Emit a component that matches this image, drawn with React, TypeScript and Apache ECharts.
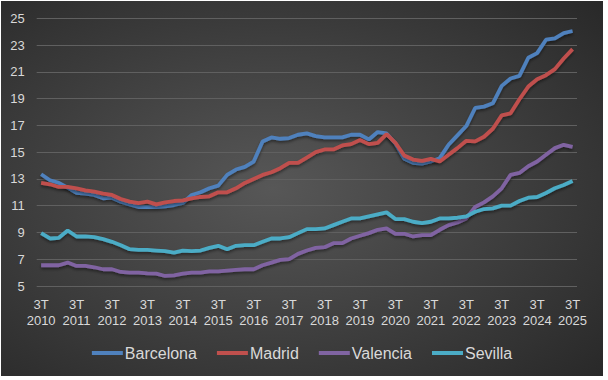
import React, { useEffect, useRef } from "react";
import * as echarts from "echarts";

const startYear = 2010;
const endYear = 2025;
const categories: string[] = [];
for (let y = startYear; y <= endYear; y++) {
  for (let q = 1; q <= 4; q++) {
    if ((y === startYear && q < 3) || (y === endYear && q > 3)) continue;
    categories.push(`${q}T ${y}`);
  }
}

const barcelona = [
  13.35, 12.9, 12.7, 12.35, 11.95, 11.9, 11.8, 11.55, 11.6, 11.3, 11.1, 10.9, 10.9, 10.9, 10.95, 11.05,
  11.2, 11.8, 12.0, 12.3, 12.5, 13.3, 13.7, 13.9, 14.3, 15.8, 16.1, 16.0, 16.05, 16.3, 16.4, 16.2,
  16.1, 16.1, 16.1, 16.3, 16.3, 15.95, 16.5, 16.4, 15.65, 14.5, 14.2, 14.15, 14.3, 14.55, 15.55, 16.25,
  16.95, 18.3, 18.4, 18.65, 19.95, 20.5, 20.7, 22.05, 22.4, 23.4, 23.5, 23.9, 24.05,
];
const madrid = [
  12.7, 12.6, 12.4, 12.4, 12.3, 12.15, 12.05, 11.9, 11.8, 11.5, 11.3, 11.2, 11.3, 11.1, 11.25, 11.35,
  11.4, 11.55, 11.65, 11.7, 12.0, 12.0, 12.3, 12.7, 13.0, 13.3, 13.5, 13.8, 14.2, 14.2, 14.6, 15.0,
  15.2, 15.2, 15.5, 15.6, 15.9, 15.6, 15.7, 16.35, 15.7, 14.75, 14.45, 14.35, 14.5, 14.3, 14.8, 15.3,
  15.85, 15.8, 16.15, 16.75, 17.75, 17.9, 18.95, 19.9, 20.45, 20.75, 21.2, 22.0, 22.7,
];
const valencia = [
  6.55, 6.55, 6.55, 6.75, 6.5, 6.5, 6.4, 6.25, 6.25, 6.05, 6.0, 6.0, 5.95, 5.93, 5.75, 5.8,
  5.93, 6.0, 6.0, 6.1, 6.1, 6.15, 6.2, 6.25, 6.25, 6.55, 6.75, 6.95, 7.0, 7.4, 7.65, 7.85,
  7.9, 8.2, 8.2, 8.55, 8.75, 8.95, 9.2, 9.3, 8.9, 8.9, 8.7, 8.8, 8.8, 9.2, 9.55, 9.75,
  10.05, 10.9, 11.25, 11.7, 12.3, 13.3, 13.45, 13.95, 14.3, 14.8, 15.3, 15.55, 15.4,
];
const sevilla = [
  8.95, 8.55, 8.6, 9.15, 8.7, 8.7, 8.65, 8.5, 8.3, 8.05, 7.75, 7.7, 7.7, 7.65, 7.6, 7.5,
  7.65, 7.6, 7.65, 7.85, 8.0, 7.75, 8.0, 8.05, 8.05, 8.3, 8.55, 8.55, 8.65, 8.95, 9.25, 9.25,
  9.3, 9.55, 9.8, 10.05, 10.05, 10.2, 10.35, 10.5, 10.0, 10.0, 9.8, 9.7, 9.8, 10.05, 10.05, 10.1,
  10.2, 10.55, 10.75, 10.8, 11.0, 11.0, 11.35, 11.6, 11.65, 11.95, 12.3, 12.55, 12.85,
];

const seriesNames = ["Barcelona", "Madrid", "Valencia", "Sevilla"];
const seriesData = [barcelona, madrid, valencia, sevilla];
const seriesColors = ["#4F81BD", "#C0504D", "#8064A2", "#4BACC6"];

const FONT = "'Liberation Sans', Arial, sans-serif";
const TEXT = "#D9D9D9";

export default function App() {
  const ref = useRef<HTMLDivElement>(null);
  useEffect(() => {
    if (!ref.current) return;
    const chart = echarts.init(ref.current, undefined, { renderer: "svg" });
    chart.setOption({
      animation: false,
      backgroundColor: new echarts.graphic.RadialGradient(0.45, 0.5, 0.75, [
        { offset: 0, color: "#575757" },
        { offset: 1, color: "#282828" },
      ]),
      textStyle: { fontFamily: FONT },
      grid: { left: 35.7, right: 26, top: 17.3, bottom: 90 },
      legend: {
        data: seriesNames,
        top: 339,
        left: "center",
        icon: "rect",
        itemWidth: 31,
        itemHeight: 4,
        itemGap: 20,
        textStyle: { color: TEXT, fontSize: 16, fontFamily: FONT, padding: [0, 0, 0, -3] },
      },
      xAxis: {
        type: "category",
        data: categories,
        boundaryGap: true,
        axisLine: { show: false },
        axisTick: { show: false },
        splitLine: { show: false },
        axisLabel: {
          interval: 3,
          color: TEXT,
          fontSize: 13,
          lineHeight: 16,
          margin: 10,
          fontFamily: FONT,
          formatter: (v: string) => v.replace(" ", "\n"),
        },
      },
      yAxis: {
        type: "value",
        min: 5,
        max: 25,
        interval: 2,
        axisLine: { show: false },
        axisTick: { show: false },
        splitLine: { lineStyle: { color: "#606060", width: 1 } },
        axisLabel: { color: TEXT, fontSize: 13, margin: 12, fontFamily: FONT },
      },
      series: seriesNames.map((name, i) => ({
        name,
        type: "line",
        data: seriesData[i],
        symbol: "none",
        color: seriesColors[i],
        lineStyle: {
          width: 3.8,
          color: seriesColors[i],
          shadowColor: "rgba(0,0,0,0.45)",
          shadowBlur: 3,
          shadowOffsetY: 2,
        },
      })),
    });
    return () => chart.dispose();
  }, []);
  return (
    <div
      ref={ref}
      style={{ position: "absolute", left: 1, top: 1, width: 602, height: 375 }}
    />
  );
}
